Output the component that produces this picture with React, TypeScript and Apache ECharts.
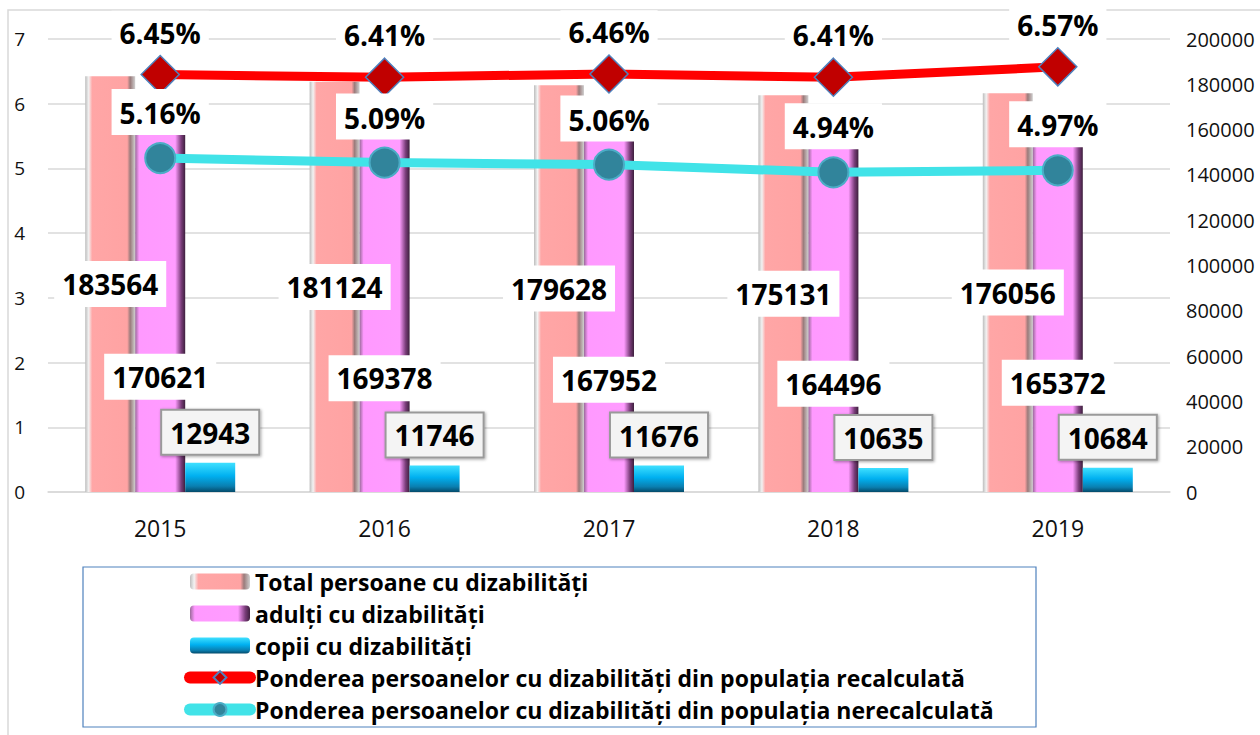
import React, { useEffect, useRef } from 'react';
import * as echarts from 'echarts';

const years = ['2015', '2016', '2017', '2018', '2019'];
const totalPersons = [183564, 181124, 179628, 175131, 176056];
const adults = [170621, 169378, 167952, 164496, 165372];
const children = [12943, 11746, 11676, 10635, 10684];
const shareRecalculated = [6.45, 6.41, 6.46, 6.41, 6.57];
const shareNotRecalculated = [5.16, 5.09, 5.06, 4.94, 4.97];

const seriesNames = [
  'Total persoane cu dizabilități',
  'adulți cu dizabilități',
  'copii cu dizabilități',
  'Ponderea persoanelor cu dizabilități din populația recalculată',
  'Ponderea persoanelor cu dizabilități din populația nerecalculată',
];

const FONT = '"Open Sans", "Noto Sans", sans-serif';

export default function App() {
  const ref = useRef<HTMLDivElement>(null);
  useEffect(() => {
    document.body.style.margin = '0';
    if (!ref.current) return;
    const chart = echarts.init(ref.current, undefined, { renderer: 'svg' });
    const hGrad = (stops: [number, string][]) =>
      new echarts.graphic.LinearGradient(0, 0, 1, 0, stops.map(([offset, color]) => ({ offset, color })));
    const vGrad = (stops: [number, string][]) =>
      new echarts.graphic.LinearGradient(0, 0, 0, 1, stops.map(([offset, color]) => ({ offset, color })));

    const whiteLabel = {
      show: true,
      fontFamily: FONT,
      fontWeight: 'bold' as const,
      fontSize: 28,
      color: '#000',
      backgroundColor: '#fff',
      padding: [10, 8, 8, 8],
    };

    chart.setOption({
      animation: false,
      textStyle: { fontFamily: FONT },
      grid: { left: 48, right: 90, top: 39, bottom: 243, containLabel: false },
      graphic: [
        {
          type: 'rect',
          shape: { x: 8, y: 10, width: 1270, height: 760 },
          style: { fill: 'none', stroke: '#d9d9d9', lineWidth: 1.5 },
          silent: true,
          z: -10,
        },
        {
          type: 'rect',
          shape: { x: 83, y: 567, width: 953, height: 160 },
          style: { fill: 'none', stroke: '#4f81bd', lineWidth: 1.2 },
          silent: true,
        },
      ],
      legend: {
        orient: 'vertical',
        left: 184,
        top: 570,
        itemWidth: 60,
        itemHeight: 16,
        itemGap: 9,
        padding: 0,
        textStyle: { fontFamily: FONT, fontSize: 23, fontWeight: 'bold', color: '#000' },
        data: [
          { name: seriesNames[0] },
          { name: seriesNames[1] },
          { name: seriesNames[2] },
          { name: seriesNames[3], lineStyle: { width: 12, cap: 'round' } },
          { name: seriesNames[4], lineStyle: { width: 12, cap: 'round' } },
        ],
      },
      xAxis: {
        type: 'category',
        data: years,
        axisLine: { show: true, lineStyle: { color: '#d9d9d9', width: 1.5 } },
        axisTick: { show: false },
        axisLabel: { fontFamily: FONT, fontSize: 23, color: '#111', margin: 24 },
      },
      yAxis: [
        {
          type: 'value',
          min: 0,
          max: 7,
          interval: 1,
          position: 'left',
          axisLine: { show: false },
          axisTick: { show: false },
          splitLine: { lineStyle: { color: '#d9d9d9', width: 1.5 } },
          axisLabel: { fontFamily: FONT, fontSize: 19, color: '#111', margin: 23 },
        },
        {
          type: 'value',
          min: 0,
          max: 200000,
          interval: 20000,
          position: 'right',
          axisLine: { show: false },
          axisTick: { show: false },
          splitLine: { show: false },
          axisLabel: {
            fontFamily: FONT,
            fontSize: 20,
            color: '#111',
            margin: 16,
            formatter: (v: number) => String(v),
          },
        },
      ],
      series: [
        {
          name: seriesNames[0],
          type: 'bar',
          yAxisIndex: 1,
          data: totalPersons,
          barWidth: 50,
          barGap: '0%',
          itemStyle: {
            color: hGrad([
              [0, '#bdbdbd'],
              [0.07, '#f2f2f2'],
              [0.14, '#ffa6a6'],
              [0.84, '#ffa3a3'],
              [0.9, '#9a7b7b'],
              [1, '#d0d0d0'],
            ]),
          },
          label: { ...whiteLabel, position: 'inside' },
          z: 2,
        },
        {
          name: seriesNames[1],
          type: 'bar',
          yAxisIndex: 1,
          data: adults,
          barWidth: 50,
          barGap: '0%',
          itemStyle: {
            color: hGrad([
              [0, '#9a6a9a'],
              [0.08, '#ff99ff'],
              [0.8, '#ff9cff'],
              [0.92, '#7a3d7a'],
              [1, '#3d1f3d'],
            ]),
          },
          label: { ...whiteLabel, position: 'inside', offset: [0, 78] },
          z: 2,
        },
        {
          name: seriesNames[2],
          type: 'bar',
          yAxisIndex: 1,
          data: children,
          barWidth: 50,
          barGap: '0%',
          itemStyle: {
            color: vGrad([
              [0, '#3fe0ff'],
              [0.45, '#00b0f0'],
              [0.8, '#0a7fb0'],
              [1, '#044a6a'],
            ]),
          },
          label: {
            ...whiteLabel,
            position: 'top',
            distance: 9,
            backgroundColor: '#f4f4f4',
            borderColor: '#9a9a9a',
            borderWidth: 2,
            shadowColor: 'rgba(0,0,0,0.35)',
            shadowBlur: 3,
            shadowOffsetX: 1,
            shadowOffsetY: 1,
            padding: [8, 8, 7, 8],
          },
          z: 2,
        },
        {
          name: seriesNames[3],
          type: 'line',
          yAxisIndex: 0,
          data: shareRecalculated,
          symbol: 'diamond',
          symbolSize: 38,
          lineStyle: { color: '#ff0000', width: 9 },
          itemStyle: { color: '#c00000', borderColor: '#4f81bd', borderWidth: 1.5 },
          label: {
            ...whiteLabel,
            position: 'top',
            distance: 2,
            formatter: (p: any) => p.value.toFixed(2) + '%',
            padding: [8, 8, 6, 8],
          },
          z: 5,
        },
        {
          name: seriesNames[4],
          type: 'line',
          yAxisIndex: 0,
          data: shareNotRecalculated,
          symbol: 'circle',
          symbolSize: 30,
          lineStyle: { color: '#41e3e8', width: 9 },
          itemStyle: { color: '#31849b', borderColor: '#4bacc6', borderWidth: 2 },
          label: {
            ...whiteLabel,
            position: 'top',
            distance: 7,
            formatter: (p: any) => p.value.toFixed(2) + '%',
          },
          z: 5,
        },
      ],
    });
    return () => chart.dispose();
  }, []);
  return <div ref={ref} style={{ width: 1260, height: 735 }} />;
}
